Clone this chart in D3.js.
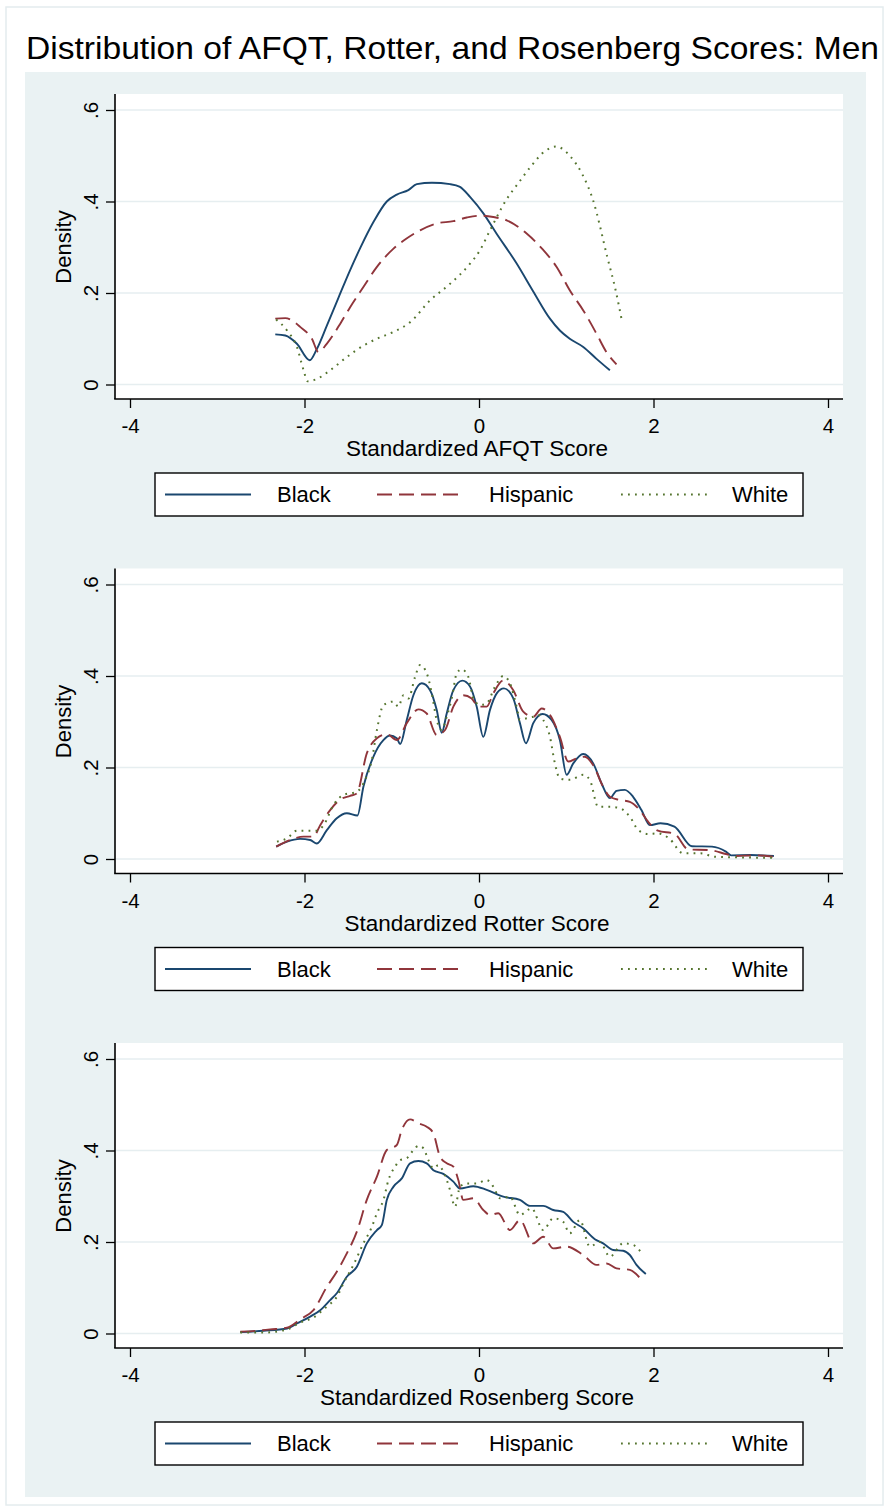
<!DOCTYPE html>
<html><head><meta charset="utf-8">
<script src="https://cdn.jsdelivr.net/npm/d3@7"></script>
<style>
body{margin:0;background:#fff}
svg{display:block}
text{font-family:"Liberation Sans",Arial,Helvetica,sans-serif;fill:#000}
</style>
</head><body>
<svg id="chart" width="886" height="1512"></svg>
<script>
// ---------------- DATA ----------------
const chartTitle = "Distribution of AFQT, Rotter, and Rosenberg Scores: Men";
const groups = ["Black", "Hispanic", "White"];
const xTitles = ["Standardized AFQT Score", "Standardized Rotter Score", "Standardized Rosenberg Score"];
const yTitle = "Density";
const xTicks = [-4, -2, 0, 2, 4];
const yTicks = [0, 0.2, 0.4, 0.6];
const yTickLabels = ["0", ".2", ".4", ".6"];

const afqtBlack = [[-2.335,0.1095],[-2.22,0.107],[-2.087,0.089],[-1.94,0.053],[-1.86,0.077],[-1.745,0.128],[-1.61,0.19],[-1.477,0.25],[-1.362,0.298],[-1.21,0.355],[-1.057,0.40],[-0.942,0.415],[-0.81,0.425],[-0.713,0.438],[-0.54,0.441],[-0.332,0.438],[-0.218,0.432],[-0.103,0.41],[0.05,0.374],[0.2,0.33],[0.43,0.265],[0.62,0.204],[0.813,0.144],[0.927,0.118],[1.04,0.10],[1.195,0.082],[1.347,0.056],[1.5,0.031]];
const afqtHispanic = [[-2.335,0.144],[-2.22,0.145],[-2.144,0.14],[-2.05,0.126],[-1.915,0.10],[-1.84,0.071],[-1.745,0.089],[-1.59,0.133],[-1.477,0.169],[-1.325,0.213],[-1.17,0.257],[-0.98,0.297],[-0.83,0.319],[-0.675,0.337],[-0.485,0.352],[-0.294,0.357],[-0.14,0.365],[0.01,0.369],[0.164,0.366],[0.317,0.359],[0.546,0.33],[0.736,0.294],[0.89,0.257],[1.04,0.206],[1.195,0.162],[1.347,0.111],[1.46,0.071],[1.576,0.044]];
const afqtWhite = [[-2.325,0.142],[-2.2,0.118],[-2.087,0.082],[-2.01,0.031],[-1.965,0.007],[-1.86,0.012],[-1.706,0.031],[-1.515,0.06],[-1.325,0.085],[-1.17,0.10],[-0.98,0.115],[-0.79,0.136],[-0.56,0.184],[-0.332,0.22],[-0.103,0.264],[0.01,0.293],[0.126,0.337],[0.317,0.405],[0.45,0.44],[0.596,0.477],[0.756,0.51],[0.887,0.52],[1.05,0.498],[1.18,0.461],[1.307,0.403],[1.47,0.279],[1.566,0.206],[1.633,0.144]];

const rotterBlack = [[-2.324,0.027],[-2.20,0.038],[-2.05,0.044],[-1.935,0.0415],[-1.858,0.034],[-1.744,0.063],[-1.63,0.089],[-1.515,0.10],[-1.393,0.095],[-1.325,0.158],[-1.21,0.224],[-1.096,0.26],[-1.02,0.27],[-0.942,0.264],[-0.904,0.251],[-0.828,0.304],[-0.752,0.358],[-0.656,0.384],[-0.561,0.369],[-0.485,0.326],[-0.427,0.276],[-0.37,0.318],[-0.294,0.369],[-0.191,0.39],[-0.103,0.377],[-0.026,0.333],[0.049,0.267],[0.126,0.326],[0.203,0.362],[0.286,0.373],[0.393,0.351],[0.469,0.297],[0.538,0.253],[0.622,0.297],[0.729,0.317],[0.832,0.304],[0.927,0.26],[1.004,0.184],[1.08,0.209],[1.194,0.2295],[1.309,0.209],[1.405,0.165],[1.50,0.133],[1.576,0.149],[1.671,0.151],[1.766,0.136],[1.862,0.107],[1.958,0.074],[2.08,0.078],[2.24,0.071],[2.44,0.028],[2.67,0.027],[2.83,0.016],[2.89,0.008],[3.11,0.0087],[3.38,0.0066]];
const rotterHispanic = [[-2.324,0.027],[-2.164,0.0415],[-2.01,0.049],[-1.897,0.049],[-1.82,0.074],[-1.706,0.107],[-1.59,0.130],[-1.477,0.138],[-1.40,0.1436],[-1.286,0.231],[-1.17,0.264],[-1.057,0.273],[-0.942,0.26],[-0.828,0.297],[-0.695,0.327],[-0.599,0.318],[-0.485,0.271],[-0.389,0.282],[-0.294,0.333],[-0.18,0.358],[-0.084,0.351],[-0.008,0.333],[0.088,0.333],[0.164,0.362],[0.278,0.39],[0.393,0.369],[0.507,0.322],[0.622,0.311],[0.718,0.329],[0.813,0.315],[0.927,0.267],[1.023,0.213],[1.118,0.22],[1.213,0.2236],[1.309,0.205],[1.423,0.158],[1.50,0.136],[1.614,0.129],[1.729,0.125],[1.843,0.107],[1.938,0.0816],[2.05,0.062],[2.24,0.055],[2.40,0.021],[2.63,0.0197],[2.83,0.011],[2.925,0.0066],[3.18,0.008],[3.38,0.005]];
const rotterWhite = [[-2.316,0.038],[-2.2,0.045],[-2.087,0.062],[-1.858,0.062],[-1.78,0.074],[-1.668,0.118],[-1.553,0.14],[-1.40,0.147],[-1.305,0.173],[-1.228,0.2164],[-1.17,0.282],[-1.095,0.3366],[-0.98,0.344],[-0.924,0.333],[-0.866,0.358],[-0.809,0.351],[-0.733,0.398],[-0.675,0.424],[-0.599,0.406],[-0.541,0.362],[-0.485,0.304],[-0.427,0.282],[-0.37,0.311],[-0.312,0.351],[-0.255,0.406],[-0.198,0.4146],[-0.122,0.398],[-0.065,0.351],[0.011,0.3366],[0.088,0.34],[0.183,0.3766],[0.278,0.40],[0.355,0.384],[0.431,0.333],[0.469,0.304],[0.546,0.3075],[0.622,0.311],[0.679,0.315],[0.736,0.304],[0.813,0.267],[0.87,0.209],[0.927,0.176],[1.04,0.173],[1.194,0.184],[1.27,0.173],[1.366,0.114],[1.50,0.114],[1.614,0.111],[1.729,0.0925],[1.824,0.0634],[1.938,0.0546],[2.05,0.056],[2.18,0.045],[2.34,0.0124],[2.54,0.0124],[2.70,0.005],[2.925,0.0037],[3.18,0.003],[3.38,0.003]];

const rosenBlack = [[-2.736,0.003],[-2.47,0.006],[-2.2,0.011],[-2.087,0.022],[-1.935,0.037],[-1.82,0.051],[-1.706,0.073],[-1.63,0.088],[-1.515,0.124],[-1.40,0.146],[-1.286,0.197],[-1.17,0.226],[-1.114,0.237],[-1.057,0.292],[-0.98,0.321],[-0.885,0.339],[-0.79,0.372],[-0.695,0.377],[-0.599,0.372],[-0.523,0.357],[-0.409,0.349],[-0.294,0.332],[-0.218,0.317],[-0.065,0.322],[0.088,0.314],[0.278,0.299],[0.469,0.292],[0.584,0.279],[0.736,0.279],[0.851,0.27],[0.965,0.266],[1.08,0.244],[1.194,0.23],[1.328,0.206],[1.423,0.197],[1.538,0.1825],[1.652,0.181],[1.729,0.1716],[1.805,0.15],[1.912,0.13]];
const rosenHispanic = [[-2.736,0.004],[-2.545,0.006],[-2.393,0.009],[-2.2,0.0127],[-2.05,0.031],[-1.897,0.051],[-1.744,0.102],[-1.63,0.135],[-1.515,0.175],[-1.40,0.2225],[-1.286,0.292],[-1.17,0.343],[-1.057,0.401],[-0.942,0.412],[-0.885,0.445],[-0.79,0.468],[-0.695,0.4595],[-0.599,0.452],[-0.523,0.4376],[-0.447,0.3865],[-0.37,0.372],[-0.294,0.3646],[-0.237,0.3355],[-0.18,0.292],[-0.065,0.2955],[0.049,0.27],[0.126,0.259],[0.221,0.263],[0.355,0.226],[0.469,0.248],[0.622,0.197],[0.736,0.2116],[0.851,0.186],[1.004,0.19],[1.194,0.1716],[1.347,0.15],[1.462,0.153],[1.576,0.1425],[1.729,0.139],[1.851,0.12]];
const rosenWhite = [[-2.736,0.002],[-2.47,0.002],[-2.2,0.009],[-2.05,0.024],[-1.897,0.035],[-1.744,0.059],[-1.63,0.08],[-1.553,0.11],[-1.439,0.15],[-1.325,0.197],[-1.228,0.233],[-1.17,0.263],[-1.095,0.292],[-1.038,0.3355],[-0.962,0.3646],[-0.904,0.379],[-0.828,0.383],[-0.752,0.401],[-0.695,0.41],[-0.637,0.405],[-0.58,0.379],[-0.523,0.361],[-0.466,0.368],[-0.409,0.354],[-0.332,0.3137],[-0.275,0.277],[-0.218,0.321],[-0.141,0.328],[-0.026,0.328],[0.088,0.3355],[0.164,0.321],[0.24,0.2955],[0.355,0.299],[0.469,0.259],[0.603,0.2736],[0.736,0.226],[0.851,0.252],[0.965,0.244],[1.04,0.219],[1.156,0.248],[1.27,0.19],[1.385,0.2],[1.50,0.168],[1.652,0.197],[1.767,0.1935],[1.881,0.1716]];

const panelSeries = [
  [afqtBlack, afqtHispanic, afqtWhite],
  [rotterBlack, rotterHispanic, rotterWhite],
  [rosenBlack, rosenHispanic, rosenWhite]
];

// ---------------- STYLE ----------------
const colors = ["#1A476F", "#90353B", "#55752F"];
const dashes = [null, "15,7", "1.8,5.2"];
const widths = [1.9, 1.9, 2];
const panelStep = 474.5;

const svg = d3.select("#chart");

// outer frame
svg.append("rect").attr("x", 6).attr("y", 7).attr("width", 877).attr("height", 1498)
  .attr("fill", "#fff").attr("stroke", "#E4ECEE").attr("stroke-width", 1.5);

// title
svg.append("text").attr("x", 26).attr("y", 59).attr("font-size", 32)
  .attr("textLength", 853).attr("lengthAdjust", "spacingAndGlyphs").text(chartTitle);

// gray panel
svg.append("rect").attr("x", 25).attr("y", 72).attr("width", 841).attr("height", 1425)
  .attr("fill", "#EAF2F3");

panelSeries.forEach((series, p) => {
  const dy = p * panelStep;
  const x = d3.scaleLinear().domain([-4, 4]).range([130, 828]);
  const y = d3.scaleLinear().domain([0, 0.6]).range([384.5 + dy, 110 + dy]);
  const g = svg.append("g");

  // plot region
  g.append("rect").attr("x", 115).attr("y", 94 + dy).attr("width", 728).attr("height", 305)
    .attr("fill", "#fff");

  // grid
  g.selectAll(".grid").data(yTicks).join("line")
    .attr("x1", 116).attr("x2", 843)
    .attr("y1", d => y(d)).attr("y2", d => y(d))
    .attr("stroke", "#E6EEF0").attr("stroke-width", 1.6);

  // lines
  const line = d3.line().x(d => x(d[0])).y(d => y(d[1])).curve(d3.curveMonotoneX);
  series.forEach((s, i) => {
    g.append("path").datum(s).attr("d", line)
      .attr("fill", "none").attr("stroke", colors[i]).attr("stroke-width", widths[i])
      .attr("stroke-dasharray", dashes[i]).attr("stroke-linejoin", "round");
  });

  // axes
  const yAxis = d3.axisLeft(y).tickValues(yTicks).tickSize(9)
    .tickFormat((d, i) => yTickLabels[i]);
  const ya = g.append("g").attr("transform", "translate(115,0)").call(yAxis);
  ya.select(".domain").remove();
  ya.selectAll(".tick line").attr("stroke", "#000").attr("stroke-width", 1.3);
  ya.selectAll(".tick text")
    .attr("transform", "rotate(-90)")
    .attr("x", 0).attr("y", -17).attr("dy", 0)
    .attr("text-anchor", "middle")
    .attr("font-size", 20.5).attr("font-family", null);

  const xAxis = d3.axisBottom(x).tickValues(xTicks).tickSize(9).tickFormat(d3.format("d"));
  const xa = g.append("g").attr("transform", `translate(0,${399 + dy})`).call(xAxis);
  xa.select(".domain").remove();
  xa.selectAll(".tick line").attr("stroke", "#000").attr("stroke-width", 1.3);
  xa.selectAll(".tick text").attr("y", 34).attr("dy", 0)
    .attr("font-size", 20.5).attr("font-family", null)
    .text(d => d < 0 ? "-" + Math.abs(d) : String(d));

  // axis lines
  g.append("line").attr("x1", 115).attr("x2", 115).attr("y1", 94 + dy).attr("y2", 399 + dy)
    .attr("stroke", "#000").attr("stroke-width", 1.6);
  g.append("line").attr("x1", 114.2).attr("x2", 843).attr("y1", 399 + dy).attr("y2", 399 + dy)
    .attr("stroke", "#000").attr("stroke-width", 1.6);

  // axis titles
  g.append("text").attr("transform", `translate(71,${247 + dy}) rotate(-90)`)
    .attr("text-anchor", "middle").attr("font-size", 22).text(yTitle);
  g.append("text").attr("x", 477).attr("y", 456 + dy)
    .attr("text-anchor", "middle").attr("font-size", 22.5).text(xTitles[p]);

  // legend
  const lg = g.append("g").attr("transform", `translate(0,${dy})`);
  lg.append("rect").attr("x", 155).attr("y", 473).attr("width", 648).attr("height", 43)
    .attr("fill", "#fff").attr("stroke", "#000").attr("stroke-width", 1.4);
  const lineStarts = [165, 377, 621];
  const textStarts = [277, 489, 732];
  groups.forEach((name, i) => {
    lg.append("line").attr("x1", lineStarts[i]).attr("x2", lineStarts[i] + 86)
      .attr("y1", 494.5).attr("y2", 494.5)
      .attr("stroke", colors[i]).attr("stroke-width", widths[i])
      .attr("stroke-dasharray", dashes[i]);
    lg.append("text").attr("x", textStarts[i]).attr("y", 502)
      .attr("font-size", 22).text(name);
  });
});
</script>
</body></html>
